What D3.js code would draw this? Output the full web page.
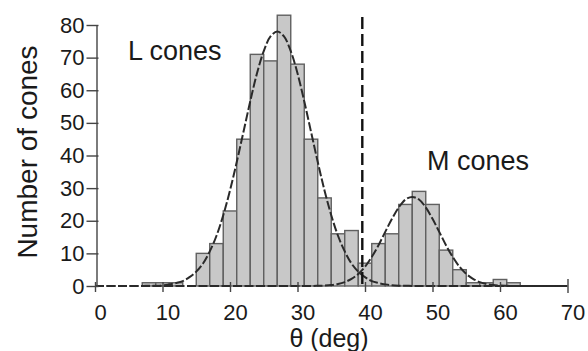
<!DOCTYPE html>
<html>
<head>
<meta charset="utf-8">
<script src="https://cdn.jsdelivr.net/npm/d3@7"></script>
<style>
  html, body { margin: 0; padding: 0; background: #fff; }
  svg text { font-family: "Liberation Sans", Arial, Helvetica, sans-serif; fill: #1a1a1a; }
</style>
</head>
<body>
<svg id="chart" width="588" height="351"></svg>
<script>
// ---- data ----
const binCenters = [8,10,12,14,16,18,20,22,24,26,28,30,32,34,36,38,40,42,44,46,48,50,52,54,56,58,60,62];
const binCounts  = [1, 1, 1, 0,10,13,23,45,71,69,83,68,45,27,16,17, 7,13,16,25,29,25,11, 5, 1, 1, 2, 1];
const binWidth = 2;

// fitted curves, sampled every degree (0..70)
const curveX = d3.range(0, 71);
const lConeFit = [0,0,0,0,0,0,0,0,0.1,0.1,0.2,0.5,0.9,1.5,2.7,4.4,6.9,10.6,15.4,21.7,29.3,38.0,47.3,56.6,65.2,72.0,76.5,78.0,76.5,72.0,65.2,56.6,47.3,38.0,29.3,21.7,15.4,10.6,6.9,4.4,2.7,1.5,0.9,0.5,0.2,0.1,0.1,0,0,0,0,0,0,0,0,0,0,0,0,0,0,0,0,0,0,0,0,0,0,0,0];
const mConeFit = [0,0,0,0,0,0,0,0,0,0,0,0,0,0,0,0,0,0,0,0,0,0,0,0,0,0,0,0,0,0,0,0,0,0.06,0.14,0.3,0.6,1.2,2.2,3.7,5.9,8.9,12.5,16.6,20.6,24.1,26.5,27.3,26.5,24.1,20.6,16.6,12.5,8.9,5.9,3.7,2.2,1.2,0.6,0.3,0.14,0.06,0,0,0,0,0,0,0,0,0];

const boundary = 39.6;
const xTicks = [0,10,20,30,40,50,60,70];
const yTicks = [0,10,20,30,40,50,60,70,80];
const labels = ["L cones", "M cones"];

// ---- layout ----
const svg = d3.select("#chart");
const x = d3.scaleLinear().domain([0, 70]).range([95, 567.5]);
const y = d3.scaleLinear().domain([0, 80]).range([286, 25]);

// bars
svg.append("g").selectAll("rect")
  .data(binCenters.map((c, i) => ({c, v: binCounts[i]})).filter(d => d.v > 0))
  .join("rect")
  .attr("x", d => x(d.c - binWidth / 2))
  .attr("width", d => x(d.c + binWidth / 2) - x(d.c - binWidth / 2))
  .attr("y", d => y(d.v))
  .attr("height", d => y(0) - y(d.v))
  .attr("fill", "#c8c8c8")
  .attr("stroke", "#606060")
  .attr("stroke-width", 1.4);

// fit curves
const line = d3.line().x((d, i) => x(curveX[i])).y(d => y(d)).curve(d3.curveCatmullRom);
[lConeFit, mConeFit].forEach(arr => {
  svg.append("path").datum(arr)
    .attr("d", line)
    .attr("fill", "none")
    .attr("stroke", "#2a2a2a")
    .attr("stroke-width", 2)
    .attr("stroke-dasharray", "9,2.5");
});

// boundary line
svg.append("line")
  .attr("x1", x(boundary)).attr("x2", x(boundary))
  .attr("y1", 17).attr("y2", 284)
  .attr("stroke", "#111").attr("stroke-width", 2.4)
  .attr("stroke-dasharray", "12,5");

// y axis
const yAxis = svg.append("g").attr("transform", `translate(${x(0) + 1.5},0)`)
  .call(d3.axisLeft(y).tickValues(yTicks).tickSizeInner(10).tickSizeOuter(0).tickPadding(2));
yAxis.select(".domain").attr("stroke", "#444").attr("stroke-width", 1.4);
yAxis.selectAll(".tick line").attr("x1", 2).attr("stroke", "#444").attr("stroke-width", 1.4);
yAxis.selectAll(".tick text").attr("font-size", 22).attr("fill", "#1a1a1a");

// x axis (ticks only)
const xAxis = svg.append("g").attr("transform", `translate(0,${y(0)})`)
  .call(d3.axisBottom(x).tickValues(xTicks).tickSizeInner(6).tickSizeOuter(0));
xAxis.select(".domain").remove();
xAxis.selectAll(".tick line").attr("y1", -4).attr("stroke", "#444").attr("stroke-width", 1.4);
xAxis.selectAll(".tick line").filter(d => d === 70).attr("y1", -7).attr("y2", 7);
xAxis.selectAll(".tick text").attr("font-size", 22).attr("y", 18).attr("dx", 5).attr("fill", "#1a1a1a");

// titles
svg.append("text").attr("transform", "translate(36.5,152) rotate(-90)")
  .attr("text-anchor", "middle").attr("font-size", 28).text("Number of cones");
svg.append("text").attr("x", 329).attr("y", 347)
  .attr("text-anchor", "middle").attr("font-size", 25).text("θ (deg)");

// labels
svg.append("text").attr("x", 128).attr("y", 60).attr("font-size", 27).text(labels[0]);
svg.append("text").attr("x", 427).attr("y", 170).attr("font-size", 27).text(labels[1]);
</script>
</body>
</html>
